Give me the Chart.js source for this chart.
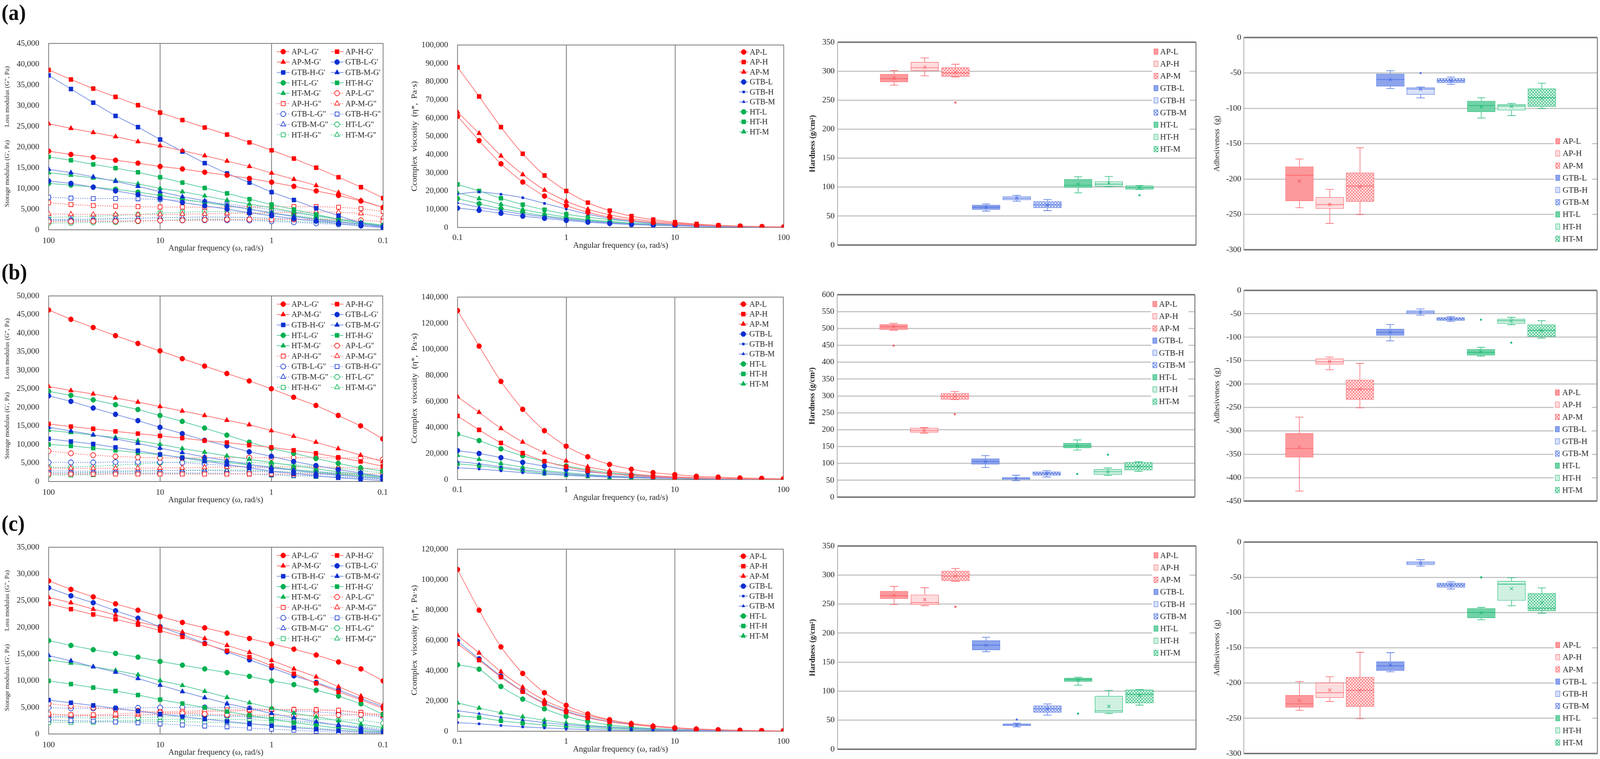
<!DOCTYPE html>
<html><head><meta charset="utf-8">
<script src="https://cdn.jsdelivr.net/npm/chart.js@4.4.1/dist/chart.umd.min.js"></script>
<style>
html,body{margin:0;padding:0;background:#fff;overflow:hidden;}
#root{position:absolute;left:0;top:0;width:4277px;height:1942px;transform-origin:0 0;background:#fff;}
.panel{position:absolute;}
.lab{position:absolute;font-family:'Liberation Serif','DejaVu Serif',serif;font-weight:bold;font-size:56px;line-height:1;color:#111;}
</style></head><body>
<div id="root">
<div class="lab" style="left:4px;top:4px">(a)</div>
<div class="lab" style="left:4px;top:668px">(b)</div>
<div class="lab" style="left:4px;top:1311px">(c)</div>
</div>
<script>
// ---------------- DATA ----------------
const GROUPS = ['AP-L','AP-H','AP-M','GTB-L','GTB-H','GTB-M','HT-L','HT-H','HT-M'];
const freqDesc = [100,63.1,39.8,25.1,15.8,10,6.31,3.98,2.51,1.58,1,0.631,0.398,0.251,0.158,0.1];
const freqAsc  = [0.1,0.158,0.251,0.398,0.631,1,1.58,2.51,3.98,6.31,10,15.8,25.1,39.8,63.1,100];
const freqTicks = [0.1,1,10,100];

// Row (a) storage modulus G' (100 -> 0.1 rad/s), order = GROUPS
const storageA = [
 [19000,18200,17500,16800,16100,15300,14700,13900,13200,12400,11500,10500,9400,8300,6950,5400],
 [38600,36300,34100,32100,30100,28300,26500,24700,23000,21100,19200,17200,15000,12700,10300,7650],
 [25600,24500,23500,22500,21300,20300,19100,17900,16600,15300,13700,12200,10700,9000,7100,5400],
 [11800,11200,10300,9400,8500,7600,6600,5800,5000,4100,3400,2700,2100,1500,950,540],
 [37300,34000,30700,27500,24800,21800,18900,16100,13600,11400,9100,7200,5200,3400,1600,540],
 [14600,13800,12800,11700,10500,9200,8000,7000,5900,5000,4050,3200,2500,1900,1350,950],
 [11200,10800,10300,9800,9100,8300,7400,6600,5800,5000,4100,3300,2600,2000,1450,1100],
 [17600,16800,15800,14900,13900,12700,11400,10100,8800,7400,6100,4900,3700,2600,1650,1000],
 [13800,13200,12500,11900,11100,10000,9200,8200,7150,6200,5300,4350,3400,2600,1800,1100]
];
// Row (a) loss modulus G"
const lossA = [
 [2000,2000,2050,2050,2150,2250,2300,2400,2500,2500,2500,2500,2550,2500,2300,2000],
 [6550,6100,5850,5700,5600,5500,5500,5450,5500,5550,5600,5600,5600,5450,5100,4450],
 [3850,3750,3700,3700,3700,3700,3800,3850,3950,4050,4150,4250,4350,4250,3950,3000],
 [2300,2200,2150,2150,2200,2250,2250,2300,2300,2250,2050,1800,1550,1300,1050,750],
 [7850,7650,7550,7550,7500,7350,7100,6750,6200,5600,4900,4100,3350,2500,1650,870],
 [2500,2550,2600,2750,2800,2950,3000,3100,3100,3000,2800,2550,2200,1800,1350,870],
 [1650,1650,1750,1850,2050,2300,2500,2600,2600,2500,2300,2050,1800,1500,1150,870],
 [3000,3100,3250,3450,3700,4050,4250,4400,4400,4150,3850,3450,2900,2300,1800,1150],
 [2300,2400,2500,2600,2750,2900,3000,3100,3000,2900,2750,2500,2200,1850,1500,1100]
];
// Row (a) complex viscosity (0.1 -> 100 rad/s)
const viscA = [
 [60900,47600,34900,24900,17200,12000,8300,5600,3900,2700,1900,1300,940,660,380,190],
 [87800,71800,55000,40400,28500,20000,13600,9200,6200,4300,2900,1900,1200,750,470,280],
 [63300,51600,39200,29000,20500,14400,10000,6900,4800,3400,2400,1600,1100,750,470,280],
 [10600,9400,7800,6200,5000,3900,2900,2200,1600,1200,940,660,470,380,280,190],
 [18300,19500,18200,16300,13200,10200,7300,5000,3300,2200,1500,1000,750,470,280,190],
 [13500,11100,9200,7300,5900,4500,3400,2500,1900,1400,1000,750,560,380,280,190],
 [15800,13000,10300,8300,6400,5000,3900,2900,2200,1600,1200,940,660,470,280,190],
 [23600,20000,16000,12500,9700,7300,5600,4300,3300,2400,1800,1300,940,660,380,190],
 [19100,15800,12700,9900,7600,5700,4300,3300,2400,1800,1300,940,660,470,280,190]
];
// Row (b)
const storageB = [
 [46200,43700,41500,39300,37200,35200,33100,31100,29100,27100,25000,22700,20500,17800,15000,11500],
 [15500,14800,14200,13500,12900,12300,11700,11000,10500,9800,9200,8400,7600,6500,5400,4100],
 [25600,24500,23600,22500,21400,20200,19000,17800,16500,15300,13700,12200,10600,8850,7100,5350],
 [23100,21600,19800,18100,16400,14600,12900,11100,9600,8000,6800,5400,4300,3200,2300,1350],
 [11500,10800,10100,9200,8300,7300,6400,5500,4600,3650,2800,2200,1550,1000,600,300],
 [14600,13600,12600,11500,10300,9000,7800,6600,5600,4600,3750,3050,2300,1800,1250,850],
 [24300,23200,22000,20700,19400,17800,16200,14400,12500,10600,8900,7600,6200,4900,3700,2800],
 [10000,9600,9000,8400,7800,7200,6500,5800,5100,4500,3900,3250,2600,2050,1550,1150],
 [13800,13200,12500,11900,11000,10000,8900,7900,6900,6000,5100,4300,3450,2600,2000,1350]
];
const lossB = [
 [8200,7600,7100,6750,6500,6400,6350,6400,6400,6450,6400,6400,6400,6400,6300,5900],
 [2000,2000,2000,2000,2000,2000,2000,2000,2000,2050,2050,2050,2050,2050,2050,2100],
 [3550,3550,3550,3550,3600,3650,3700,3800,3900,3950,3950,3950,3900,3800,3650,3450],
 [5150,5150,5150,5250,5250,5250,5050,4700,4300,3900,3550,3100,2750,2300,1850,1350],
 [2300,2300,2300,2300,2300,2300,2300,2300,2200,2050,1850,1650,1450,1200,1000,700],
 [2900,2800,2800,2850,2900,2950,2950,2950,2850,2750,2550,2300,2000,1650,1250,850],
 [3800,3900,4100,4400,4700,5050,5250,5300,5250,5150,4900,4500,4100,3550,2950,2300],
 [1750,1750,1850,2000,2050,2200,2200,2200,2100,2000,1750,1550,1350,1150,900,650],
 [2400,2400,2500,2600,2750,2900,3050,3100,3100,3050,2800,2600,2300,2000,1650,1200]
];
const viscB = [
 [129700,102400,75300,53900,37500,25600,17500,11600,7900,5300,3800,2500,1900,1200,900,560],
 [48800,38100,28100,20300,14100,9800,6700,4400,3000,2100,1600,1100,800,560,340,230],
 [63500,51600,39200,28800,20600,14300,9800,6700,4500,3000,2100,1500,1000,700,450,250],
 [22200,20000,16800,13200,10400,7800,5900,4400,3300,2400,1700,1250,900,680,450,230],
 [9000,8100,6700,5300,4200,3300,2500,1900,1500,1100,900,680,450,340,230,110],
 [13800,12100,9800,7600,5900,4400,3300,2500,1900,1500,1100,800,560,340,230,110],
 [34900,29900,23600,18300,13800,10400,7600,5300,3800,2700,1900,1350,1000,700,450,230],
 [12100,10700,8700,6700,4700,3600,2700,1900,1350,1000,800,560,450,340,230,110],
 [18600,15500,12300,9500,7000,5300,3800,2800,2100,1600,1100,800,560,340,230,110]
];
// Row (c)
const storageC = [
 [28700,27100,25700,24400,23200,22000,20900,19900,18900,17900,16900,15900,14800,13500,12200,9950],
 [24400,23400,22400,21500,20500,19400,18200,16900,15600,14400,12800,11300,9500,7900,6400,4800],
 [25600,24600,23400,22300,21000,20100,19100,17900,16600,15300,13800,12200,10700,8850,7100,5400],
 [27400,25900,24600,23100,21700,20100,18600,17000,15400,13900,12400,10900,9650,8200,6650,5100],
 [6350,5850,5350,4800,4300,3750,3250,2800,2350,1950,1550,1200,900,600,400,250],
 [14700,13700,12600,11600,10400,9150,7950,6800,5700,4800,3850,3050,2300,1600,1050,550],
 [17500,16600,15800,15100,14400,13600,12900,12200,11500,10800,9950,9250,8200,7100,5650,3650],
 [9950,9350,8700,8050,7300,6450,5700,4950,4200,3500,2800,2150,1600,1100,700,400],
 [13900,13300,12600,11900,11100,10000,9100,8000,6850,5850,4850,3900,3200,2500,1800,1250]
];
const lossC = [
 [5700,5250,4950,4650,4350,4050,3900,3750,3600,3550,3500,3500,3500,3550,3600,3700],
 [3750,3600,3600,3750,3950,4150,4250,4400,4500,4550,4650,4600,4550,4450,4050,3600],
 [3600,3500,3400,3400,3550,3750,3950,4150,4250,4400,4500,4550,4500,4350,3900,3350],
 [4950,4800,4800,4850,4900,4950,5000,5000,4950,4800,4550,4350,4150,3850,3550,3200],
 [2700,2500,2400,2250,2100,1900,1700,1500,1350,1100,900,700,500,300,200,100],
 [3200,3350,3400,3500,3550,3600,3600,3550,3400,3200,2900,2550,2150,1700,1250,800],
 [3200,3050,3000,3000,3050,3200,3350,3400,3400,3350,3200,2950,2750,2600,2650,2000],
 [2150,2150,2200,2300,2350,2350,2300,2200,2100,1900,1700,1400,1100,800,600,400],
 [2500,2450,2450,2500,2600,2700,2800,2800,2750,2700,2500,2300,2000,1700,1400,1050]
];
const viscC = [
 [106600,79800,55600,38100,25400,17100,11400,7600,5000,3300,2100,1350,830,520,310,210],
 [57700,46900,35700,26100,18100,12700,8800,6200,4460,3100,2100,1350,830,520,310,210],
 [63200,51600,39200,29000,20400,14500,10400,7300,5200,3600,2400,1550,1040,620,410,210],
 [59400,47700,36300,26400,18700,13300,9300,6500,4700,3100,2100,1350,830,520,310,210],
 [5700,4900,3800,2900,2200,1550,1140,830,620,520,410,310,210,210,100,100],
 [13500,11600,9300,7500,5700,4350,3300,2500,1870,1350,1040,730,520,310,210,100],
 [43800,40900,29500,21200,14800,9800,6500,4150,2800,1870,1240,830,520,310,210,100],
 [10200,9000,6900,5400,4150,3100,2400,1760,1350,1040,730,520,410,310,210,100],
 [18700,15300,12200,9500,7300,5400,3900,2900,2100,1450,1040,730,520,310,210,100]
];

// Box plots: [lower whisker, Q1, median, Q3, upper whisker, mean], order = GROUPS
const hardA = [[276,281,287,295,301,288],[292,300.5,306,316,323,307],[290,290.5,297,306.5,312,298],
 [58.6,61,65.3,69.3,71,65.5],[75.7,77.8,80.8,84.2,85.8,81],[59.4,64,69.3,75.4,78.6,69],
 [90,99.2,103.2,113.6,117.8,105],[100.8,100.8,105,109.8,118.4,107],[96,96,99.2,102.6,102.6,99.5]];
const hardA_out = [[],[],[246],[],[],[],[],[],[86]];
const adhA = [[-240.6,-231.2,-194.7,-182.4,-171.7,-203],[-262.8,-242.1,-236.2,-225.7,-214.6,-236],[-250.2,-232.2,-210,-191.2,-155.8,-211],
 [-72.1,-69,-59.4,-51.3,-47,-59.5],[-85.4,-80.6,-72.8,-70.6,-69.9,-73],[-66.2,-64.2,-61,-57.7,-55.9,-61],
 [-113.8,-105.3,-96.1,-89.6,-85.2,-98],[-110.3,-102.9,-96.8,-94.2,-93.1,-97.5],[-100.7,-97.9,-85,-72.1,-64.5,-86]];
const adhA_out = [[],[],[],[],[-50.3],[],[],[],[]];

const hardB = [[494.7,496,505,512.4,515,505],[189.5,191.8,198.4,205,206,198],[289,289.2,299,307.8,313,298],
 [87.7,97,105.4,114.3,123,105],[48.7,51.8,55.4,58.9,65,55.5],[59.8,64.2,70,75.3,78.8,70],
 [139.5,145.3,152,160.3,169.6,152],[64.2,66.4,75.3,82.8,86.4,75],[76.6,79.7,90.8,103.2,105,91]];
const hardB_out = [[449],[],[245.8],[],[],[],[68.6],[126],[]];
const adhB = [[-428.7,-356.8,-337.7,-305.1,-270.7,-335],[-169.5,-158.3,-152.6,-145.5,-142.4,-152],[-250.9,-233.3,-211,-191,-155.8,-211],
 [-107.9,-96.7,-89.7,-82.3,-72.8,-89.5],[-53,-50.4,-46.6,-43.1,-39.6,-46.5],[-66.4,-64.8,-61,-57.5,-55.9,-61],
 [-140.4,-138.8,-132.4,-125.4,-121.6,-131],[-73.4,-71.2,-64.8,-61,-57.5,-65.5],[-102.1,-99,-85.5,-72.8,-64.8,-86]];
const adhB_out = [[],[],[],[],[],[],[-62.6],[-111.7],[]];

const hardC = [[249.2,258.9,264.4,272.5,280.4,265],[247.3,248.7,252.3,266,278.2,257.7],[289.2,290,298.3,307.1,311.2,298],
 [168,170.7,179.3,187.5,192.8,179],[38.6,40.2,42.1,44.1,44.9,42],[58.7,63.3,69.7,75.2,77.9,69.5],
 [110.2,116.5,120,122.8,124,119.5],[61.4,62.8,66.1,91.7,101.3,73.8],[76,79.3,94.5,102.7,102.7,93]];
const hardC_out = [[],[],[245.4],[],[51.2],[],[61.4],[],[]];
const adhC = [[-238.7,-234.6,-229.4,-217.1,-197.8,-225],[-226.2,-221,-213.7,-199.4,-191,-210],[-250.5,-233.5,-210.3,-191.5,-156.3,-211],
 [-184,-182.4,-175.6,-169.4,-157,-174.5],[-34.1,-32.5,-29.8,-27.5,-25,-30],[-66.5,-64.3,-60.9,-57.9,-56.3,-61],
 [-110.2,-107.9,-99.9,-93.8,-92.7,-100.5],[-90.4,-83.1,-59.7,-55.2,-50.6,-66],[-101,-97.9,-93.8,-72.7,-65,-86]];
const adhC_out = [[],[],[],[],[],[],[-50],[],[]];

// ---------------- FIT TO VIEWPORT ----------------
const ROOT = document.getElementById('root');
(function(){
  const vw = window.innerWidth || document.documentElement.clientWidth || 4277;
  const vh = window.innerHeight || document.documentElement.clientHeight || 1942;
  const sx = vw / 4277, sy = vh / 1942;
  if (vw > 200 && vh > 100 && (Math.abs(sx-1) > 0.002 || Math.abs(sy-1) > 0.002)) {
    ROOT.style.transform = `scale(${sx},${sy})`;
  }
})();

// ---------------- STYLE ----------------
const SERIF = "'Liberation Serif','DejaVu Serif','Times New Roman',serif";
Chart.defaults.font.family = SERIF;
Chart.defaults.font.size = 22;
Chart.defaults.color = '#222';
const LINECOL = {AP:{mk:'#FF0000',ln:'#FF7A7A'}, GTB:{mk:'#0B2FD0',ln:'#7E96E6'}, HT:{mk:'#00B050',ln:'#62CFA4'}};
const BOXRGB = {AP:[250,92,98], GTB:[72,110,224], HT:[28,184,114]};
const PSTYLE = {L:'circle', H:'rect', M:'triangle'};
const PRAD = {L:6.5, H:7.5, M:7.5};
const PRAD_SMALL = {L:6.5, H:4, M:4.5};
const CFG = {};

function rgba(c,a){return `rgba(${c[0]},${c[1]},${c[2]},${a})`;}
function makePattern(rgb, kind){
  const c = document.createElement('canvas');
  const g = c.getContext('2d');
  if (kind === 'L') {
    c.width = c.height = 2;
    g.fillStyle = '#fff'; g.fillRect(0,0,2,2);
    g.fillStyle = rgba(rgb,0.35); g.fillRect(0,0,2,2);
    g.fillStyle = rgba(rgb,0.85); g.fillRect(0,0,1,1); g.fillRect(1,1,1,1);
  } else if (kind === 'H') {
    c.width = c.height = 4;
    g.fillStyle = '#fff'; g.fillRect(0,0,4,4);
    g.fillStyle = rgba(rgb,0.1); g.fillRect(0,0,4,4);
    g.fillStyle = rgba(rgb,0.45); g.fillRect(0,0,1,1); g.fillRect(2,2,1,1);
    g.fillStyle = rgba(rgb,0.25); g.fillRect(0,3,4,1);
  } else {
    c.width = c.height = 8;
    g.fillStyle = '#fff'; g.fillRect(0,0,8,8);
    g.fillStyle = rgba(rgb,0.75); g.fillRect(0,0,4,4); g.fillRect(4,4,4,4);
    g.fillStyle = rgba(rgb,0.12); g.fillRect(4,0,4,4); g.fillRect(0,4,4,4);
  }
  return g.createPattern(c,'repeat');
}

function drawMarker(ctx, style, r, x, y){
  ctx.beginPath();
  if (style==='circle') ctx.arc(x,y,r,0,Math.PI*2);
  else if (style==='rect'){ const s=r*Math.SQRT1_2; ctx.rect(x-s,y-s,2*s,2*s); }
  else { ctx.moveTo(x,y-r); ctx.lineTo(x+r*0.866,y+r*0.5); ctx.lineTo(x-r*0.866,y+r*0.5); ctx.closePath(); }
  ctx.fill(); ctx.stroke();
}

// ---------------- PLUGINS ----------------
const framePlugin = {
  id:'frameP',
  beforeDatasetsDraw(chart){
    const cfg = CFG[chart.canvas.id]; if(!cfg) return;
    const ctx = chart.ctx, ca = chart.chartArea;
    ctx.save();
    if (cfg.frame === 'rect') {
      ctx.strokeStyle = '#777'; ctx.lineWidth = 2;
      ctx.strokeRect(ca.left, ca.top, ca.right-ca.left, ca.bottom-ca.top);
    } else {
      ctx.strokeStyle = '#777'; ctx.lineWidth = 2.5;
      ctx.beginPath(); ctx.moveTo(ca.right, ca.top); ctx.lineTo(ca.right, ca.bottom); ctx.stroke();
    }
    ctx.restore();
  }
};
const boxPlugin = {
  id:'boxP',
  afterDatasetsDraw(chart){
    const cfg = CFG[chart.canvas.id]; if(!cfg || !cfg.box) return;
    const ctx = chart.ctx, ys = chart.scales.y, py = v => ys.getPixelForValue(v);
    chart.data.datasets.forEach((d,i)=>{
      const bar = chart.getDatasetMeta(i).data[0]; if(!bar) return;
      const x = bar.x, w = bar.width, s = d.stats, cap = 11;
      ctx.save(); ctx.strokeStyle = d.borderColor; ctx.lineWidth = 1.6;
      ctx.beginPath();
      ctx.moveTo(x, py(s[3])); ctx.lineTo(x, py(s[4]));
      ctx.moveTo(x, py(s[1])); ctx.lineTo(x, py(s[0]));
      ctx.moveTo(x-cap, py(s[4])); ctx.lineTo(x+cap, py(s[4]));
      ctx.moveTo(x-cap, py(s[0])); ctx.lineTo(x+cap, py(s[0]));
      ctx.moveTo(x-w/2, py(s[2])); ctx.lineTo(x+w/2, py(s[2]));
      ctx.stroke();
      const m = py(s[5]);
      ctx.beginPath(); ctx.moveTo(x-4,m-4); ctx.lineTo(x+4,m+4); ctx.moveTo(x+4,m-4); ctx.lineTo(x-4,m+4); ctx.stroke();
      ctx.fillStyle = d.borderColor;
      d.outliers.forEach(v=>{ ctx.beginPath(); ctx.arc(x, py(v), 2.8, 0, Math.PI*2); ctx.fill(); });
      ctx.restore();
    });
  }
};
const legendPlugin = {
  id:'inLegendP',
  afterDraw(chart){
    const cfg = CFG[chart.canvas.id]; if(!cfg || !cfg.legend) return;
    const o = cfg.legend, ctx = chart.ctx, ca = chart.chartArea;
    ctx.save();
    if (o.bg) { const r = o.bg(ca); ctx.fillStyle = '#fff'; ctx.fillRect(r[0],r[1],r[2],r[3]); }
    ctx.font = o.font; ctx.textBaseline = 'middle'; ctx.textAlign = 'left';
    chart.data.datasets.forEach((d,i)=>{
      const col = i % o.cols, row = Math.floor(i / o.cols);
      const p = o.pos(ca, col, row), mx = p[0], my = p[1];
      if (o.kind === 'line') {
        ctx.save();
        ctx.strokeStyle = d.borderColor; ctx.lineWidth = d.borderWidth; ctx.setLineDash(d.borderDash || []);
        ctx.beginPath(); ctx.moveTo(mx-o.seg, my); ctx.lineTo(mx+o.seg, my); ctx.stroke();
        ctx.restore();
        ctx.save();
        ctx.fillStyle = d.pointBackgroundColor; ctx.strokeStyle = d.pointBorderColor; ctx.lineWidth = d.pointBorderWidth;
        drawMarker(ctx, d.pointStyle, d.pointRadius, mx, my);
        ctx.restore();
      } else {
        ctx.fillStyle = d.backgroundColor; ctx.fillRect(mx-5.5, my-7, 11, 14);
        ctx.strokeStyle = d.borderColor; ctx.lineWidth = 1; ctx.strokeRect(mx-5.5, my-7, 11, 14);
      }
      ctx.fillStyle = '#222'; ctx.fillText(d.label, mx + o.tx, my + 1);
    });
    ctx.restore();
  }
};
Chart.register(framePlugin, boxPlugin, legendPlugin);

// ---------------- LAYOUT ----------------
// plot-area rectangles [left, top, right, bottom] in page pixels
const GEO = {
  mod:  [[130,103,1024,588],[130,749,1023,1232],[130,1392,1024,1878]],
  visc: [[1223,107,2095,582],[1223,752,2094,1227],[1223,1397,2094,1871]],
  hard: [[2239,108,3197,627],[2238,754,3194,1272],[2239,1397,3197,1917]],
  adh:  [[3325,96,4270,639],[3325,743,4269,1282],[3325,1387,4270,1928]]
};
let nCanvas = 0;
function mount(g, yW, xH, padT, padR){
  const [L,T,R,B] = g;
  const d = document.createElement('div'); d.className = 'panel';
  d.style.left = (L-yW)+'px'; d.style.top = (T-padT)+'px';
  d.style.width = (R-L+yW+padR)+'px'; d.style.height = (B-T+padT+xH)+'px';
  const c = document.createElement('canvas'); c.id = 'cv'+(nCanvas++);
  d.appendChild(c); ROOT.appendChild(d);
  return c;
}

function lineDatasets(matrix, freq, suffix, open, smallGTB, tension){
  return matrix.map((vals, gi) => {
    const name = GROUPS[gi], fam = name.split('-')[0], kind = name.split('-')[1];
    const c = LINECOL[fam];
    const small = smallGTB && fam === 'GTB';
    return {
      label: name + suffix,
      data: vals.map((v,i)=>({x:freq[i], y:v})),
      borderColor: c.ln, borderWidth: 2, borderDash: open ? [3,3] : [],
      pointStyle: PSTYLE[kind], pointRadius: (small ? PRAD_SMALL : PRAD)[kind],
      pointBackgroundColor: open ? '#fff' : c.mk, pointBorderColor: c.mk,
      pointBorderWidth: open ? 1.6 : 1, tension: tension, fill: false
    };
  });
}

function lineChart(g, datasets, opts){
  const yW = opts.yW, xH = opts.xH, padT = 30, padR = 30;
  const cv = mount(g, yW, xH, padT, padR);
  CFG[cv.id] = {frame:'rect', legend: opts.legend};
  new Chart(cv, {
    type:'line',
    data:{datasets},
    options:{
      responsive:true, maintainAspectRatio:false, animation:false, locale:'en-US',
      layout:{padding:{top:padT, right:padR, left:0, bottom:0}},
      plugins:{legend:{display:false}, tooltip:{enabled:false}},
      scales:{
        x:{type:'logarithmic', min:0.1, max:100, reverse:opts.reverse,
           afterBuildTicks: a => { a.ticks = freqTicks.map(v=>({value:v})); },
           afterFit: s => { s.height = xH; },
           ticks:{callback: v => String(v), autoSkip:false, maxRotation:0, minRotation:0, padding:opts.xPad, font:{size:22}},
           grid:{color:'#555', lineWidth:1.6, drawTicks:false},
           border:{display:false},
           title:{display:true, text:'Angular frequency (ω, rad/s)', font:{size:22}, padding:{top:0, bottom:2}}},
        y:{min:0, max:opts.yMax,
           afterFit: s => { s.width = yW; },
           ticks:{stepSize:opts.step, padding:25, font:{size:22}},
           grid:{display:false, drawTicks:false},
           border:{display:false},
           title:{display:true, text:opts.yTitle, font:{size:opts.yTitleSize}, padding:{top:opts.yTitlePad, bottom:0}}}
      }
    }
  });
}

function boxChart(g, stats, outs, yMin, yMax, opts){
  const yW = opts.yW, padT = 30, padR = opts.padR, padB = 30;
  const cv = mount(g, yW, padB, padT, padR);
  const datasets = stats.map((s, gi) => {
    const name = GROUPS[gi], fam = name.split('-')[0], kind = name.split('-')[1];
    return {
      label: name, data: [[s[1], s[3]]], stats: s, outliers: outs[gi],
      backgroundColor: makePattern(BOXRGB[fam], kind), borderColor: rgba(BOXRGB[fam],0.95),
      borderWidth: 1.5, borderSkipped: false,
      categoryPercentage: opts.catPct, barPercentage: opts.barPct
    };
  });
  CFG[cv.id] = {frame:'right', box:true, legend: opts.legend};
  const edge = c => c.tick && (c.tick.value === yMax || c.tick.value === yMin);
  new Chart(cv, {
    type:'bar',
    data:{labels:[''], datasets},
    options:{
      responsive:true, maintainAspectRatio:false, animation:false, locale:'en-US',
      layout:{padding:{top:padT, right:padR, left:0, bottom:padB}},
      plugins:{legend:{display:false}, tooltip:{enabled:false}},
      scales:{
        x:{display:false, grid:{display:false}},
        y:{min:yMin, max:yMax,
           afterFit: s => { s.width = yW; },
           ticks:{stepSize:50, padding:opts.tickPad, font:{size:22}},
           grid:{color: c => edge(c) ? '#7a7a7a' : '#c6c6c6', lineWidth: c => edge(c) ? 4 : 3, drawTicks:false},
           border:{display:true, color:'#8a8a8a', width:1.5},
           title:{display:true, text:opts.yTitle, font:{size:20, weight:opts.bold ? 'bold' : 'normal'}, padding:{top:2, bottom:0}}}
      }
    }
  });
}

// ---------------- BUILD ----------------
const modLegend = {kind:'line', cols:2, font:'21px '+SERIF, seg:17, tx:22,
  pos:(ca,c,r)=>[ca.left+627+c*144, ca.top+21+r*26.6]};
const viscLegend = {kind:'line', cols:1, font:'21px '+SERIF, seg:12, tx:16,
  pos:(ca,c,r)=>[ca.right-107, ca.top+18+r*25.5]};
const hardLegend = {kind:'box', cols:1, font:'22px '+SERIF, tx:11,
  bg: ca => [ca.right-117, ca.top+3, 100, 292],
  pos:(ca,c,r)=>[ca.right-107, ca.top+24+r*31.2]};
const adhLegend = {kind:'box', cols:1, font:'22px '+SERIF, tx:13,
  bg: ca => [ca.right-116, ca.bottom-28-8*31.2-18, 102, 8*31.2+34],
  pos:(ca,c,r)=>[ca.right-106, ca.bottom-28-(8-r)*31.2]};

const modTitle = "Storage modulus (G', Pa)\u2003\u2003Loss modulus (G\", Pa)";
const viscTitle = 'Ccomplex\u2002viscosity\u2002(η*,\u2002Pa·s)';

const rowsMod = [[storageA,lossA,45000],[storageB,lossB,50000],[storageC,lossC,35000]];
rowsMod.forEach((r,i)=>{
  const ds = lineDatasets(r[0], freqDesc, "-G'", false, false, 0).concat(lineDatasets(r[1], freqDesc, '-G"', true, false, 0));
  lineChart(GEO.mod[i], ds, {yW:125, xH:62, xPad:15, reverse:true, yMax:r[2], step:5000,
    yTitle:modTitle, yTitleSize:17, yTitlePad:4, legend:modLegend});
});
const rowsVisc = [[viscA,100000,10000],[viscB,140000,20000],[viscC,120000,20000]];
rowsVisc.forEach((r,i)=>{
  const ds = lineDatasets(r[0], freqAsc, '', false, true, 0.25);
  lineChart(GEO.visc[i], ds, {yW:130, xH:61, xPad:13, reverse:false, yMax:r[1], step:r[2],
    yTitle:viscTitle, yTitleSize:22, yTitlePad:2, legend:viscLegend});
});
const rowsHard = [[hardA,hardA_out,350],[hardB,hardB_out,600],[hardC,hardC_out,350]];
rowsHard.forEach((r,i)=>{
  boxChart(GEO.hard[i], r[0], r[1], 0, r[2], {yW:80, padR:30, tickPad:8, catPct:0.7704, barPct:0.9146,
    yTitle:'Hardness (g/cm²)', bold:true, legend:hardLegend});
});
const rowsAdh = [[adhA,adhA_out,-300],[adhB,adhB_out,-450],[adhC,adhC_out,-300]];
rowsAdh.forEach((r,i)=>{
  boxChart(GEO.adh[i], r[0], r[1], r[2], 0, {yW:85, padR:6, tickPad:7, catPct:0.7714, barPct:0.926,
    yTitle:'Adhesiveness\u2002(g)', bold:false, legend:adhLegend});
});
</script>
</body></html>
